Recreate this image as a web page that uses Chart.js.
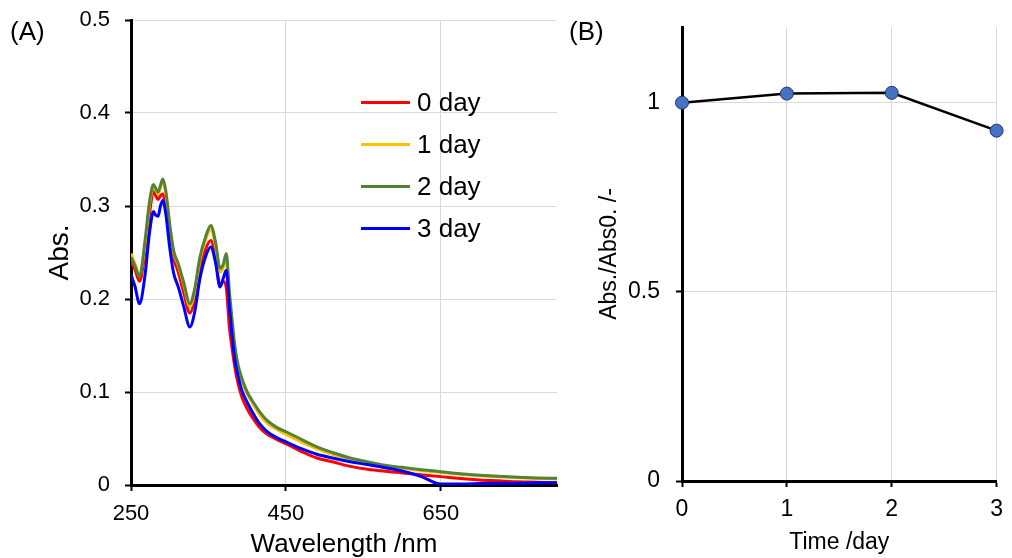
<!DOCTYPE html>
<html>
<head>
<meta charset="utf-8">
<script src="https://cdn.jsdelivr.net/npm/chart.js@4.4.1/dist/chart.umd.min.js"></script>
<style>
  body { margin: 0; background: #fff; font-family: "Liberation Sans", Arial, sans-serif; }
  #page { position: relative; width: 1012px; height: 558px; overflow: hidden; }
  .panel { position: absolute; top: 0; }
  .tag { position: absolute; font-size: 26px; color: #000; }
  .legend-row { position: absolute; height: 30px; display: flex; align-items: center; font-size: 26px; color: #000; }
  .legend-row span.swatch { display: inline-block; width: 49px; height: 3px; margin-right: 7px; }
</style>
</head>
<body>
<div id="page">
  <div class="panel" style="left:0;width:570px;height:558px"><canvas id="chartA" width="570" height="558"></canvas></div>
  <div class="panel" style="left:570px;width:442px;height:558px"><canvas id="chartB" width="442" height="558"></canvas></div>
  <div class="tag" style="left:10px;top:16px">(A)</div>
  <div class="tag" style="left:569px;top:16px">(B)</div>
  <div id="legend"></div>
</div>
<script>
// panel A: absorption spectra
const wavelength = [250, 255, 261, 268, 274, 279, 282, 285, 288, 291, 295, 300, 305, 311, 318, 326, 332, 339, 346, 353,
                    359, 365, 369, 373, 377, 380, 384, 388, 393, 400, 407, 415, 425, 438, 451, 470, 490, 510, 533, 555,
                    575, 600, 625, 650, 675, 700, 725, 750, 775, 800];
const abs0day = [0.240, 0.232, 0.219, 0.250, 0.292, 0.316, 0.311, 0.307, 0.311, 0.313, 0.298, 0.268, 0.244, 0.229, 0.207, 0.185, 0.198, 0.232, 0.253, 0.263,
                 0.245, 0.214, 0.219, 0.212, 0.170, 0.150, 0.127, 0.110, 0.095, 0.082, 0.072, 0.063, 0.055, 0.049, 0.044, 0.036, 0.029, 0.025, 0.020, 0.017,
                 0.015, 0.013, 0.011, 0.009, 0.007, 0.0055, 0.0045, 0.0035, 0.003, 0.0025];
const abs1day = [0.249, 0.238, 0.226, 0.258, 0.302, 0.321, 0.317, 0.313, 0.320, 0.326, 0.313, 0.278, 0.250, 0.236, 0.216, 0.192, 0.207, 0.242, 0.263, 0.275,
                 0.258, 0.229, 0.233, 0.244, 0.203, 0.178, 0.147, 0.127, 0.112, 0.098, 0.088, 0.077, 0.067, 0.060, 0.054, 0.046, 0.039, 0.033, 0.028, 0.024,
                 0.021, 0.018, 0.0155, 0.0135, 0.0115, 0.010, 0.0088, 0.0078, 0.007, 0.0065];
const abs2day = [0.245, 0.236, 0.224, 0.262, 0.305, 0.323, 0.319, 0.315, 0.322, 0.329, 0.316, 0.280, 0.252, 0.238, 0.218, 0.195, 0.210, 0.245, 0.266, 0.279,
                 0.262, 0.233, 0.237, 0.249, 0.208, 0.182, 0.150, 0.130, 0.115, 0.100, 0.090, 0.080, 0.070, 0.062, 0.057, 0.049, 0.041, 0.035, 0.029, 0.025,
                 0.0215, 0.019, 0.0165, 0.0143, 0.012, 0.0105, 0.0093, 0.0083, 0.0076, 0.0072];
const abs3day = [0.226, 0.214, 0.195, 0.225, 0.272, 0.294, 0.290, 0.289, 0.300, 0.306, 0.291, 0.255, 0.228, 0.213, 0.192, 0.170, 0.185, 0.222, 0.245, 0.256,
                 0.240, 0.213, 0.222, 0.231, 0.192, 0.165, 0.135, 0.118, 0.102, 0.089, 0.078, 0.067, 0.058, 0.051, 0.046, 0.039, 0.033, 0.029, 0.025, 0.022,
                 0.019, 0.015, 0.009, 0.001, 0.001, 0.0015, 0.002, 0.002, 0.0025, 0.0025];
const seriesNames = ["0 day", "1 day", "2 day", "3 day"];
const seriesColors = ["#ff0000", "#ffc000", "#548235", "#0000ff"];
const xTicksA = [250, 450, 650];
const yTicksA = [0, 0.1, 0.2, 0.3, 0.4, 0.5];

// panel B: relative absorbance
const timeDays = [0, 1, 2, 3];
const absRatio = [1.0, 1.024, 1.026, 0.926];
const xTicksB = [0, 1, 2, 3];
const yTicksB = [0, 0.5, 1];

const fontFamily = "'Liberation Sans', Arial, sans-serif";
const gridColor = "#d9d9d9";

function toPoints(xs, ys) {
    return xs.map(function(x, i) { return { x: x, y: ys[i] }; });
}

// fixed axis box so the plot area lands where the original has it
function fixYAxis(width) {
    return function(scale) {
        scale.width = width;
        scale.paddingTop = 0;
        scale.paddingBottom = 0;
    };
}

const spectra = [abs0day, abs1day, abs2day, abs3day];

new Chart(document.getElementById("chartA").getContext("2d"), {
    type: "line",
    data: {
        datasets: spectra.map(function(values, i) {
            return {
                label: seriesNames[i],
                data: toPoints(wavelength, values),
                borderColor: seriesColors[i],
                borderWidth: 3,
                pointRadius: 0,
                cubicInterpolationMode: "monotone",
                order: 4 - i
            };
        })
    },
    options: {
        responsive: false,
        animation: false,
        layout: { padding: { left: 0, top: 20, right: 13, bottom: 0 } },
        plugins: { legend: { display: false }, tooltip: { enabled: false } },
        scales: {
            x: {
                type: "linear",
                min: 250,
                max: 800,
                afterBuildTicks: function(scale) { scale.ticks = xTicksA.map(function(v) { return { value: v }; }); },
                afterFit: function(scale) { scale.height = 73; },
                grid: { color: gridColor, lineWidth: 1, tickColor: "#000", tickWidth: 2, tickLength: 6 },
                border: { color: "#000", width: 3 },
                ticks: { color: "#000", font: { family: fontFamily, size: 22 }, padding: 10, maxRotation: 0 },
                title: { display: true, text: "Wavelength /nm", color: "#000", font: { family: fontFamily, size: 26, lineHeight: 1 }, padding: { top: 0, bottom: 0 } }
            },
            y: {
                min: 0,
                max: 0.5,
                afterBuildTicks: function(scale) { scale.ticks = yTicksA.map(function(v) { return { value: v }; }); },
                afterFit: fixYAxis(131),
                grid: { color: gridColor, lineWidth: 1, tickColor: "#000", tickWidth: 2, tickLength: 6 },
                border: { color: "#000", width: 3 },
                ticks: { color: "#000", font: { family: fontFamily, size: 22 }, padding: 15,
                         callback: function(v) { return Number(v.toFixed(1)).toString(); } },
                title: { display: true, text: "Abs.", color: "#000", font: { family: fontFamily, size: 28 }, padding: { top: 43 } }
            }
        }
    }
});

new Chart(document.getElementById("chartB").getContext("2d"), {
    type: "line",
    data: {
        datasets: [{
            label: "Abs./Abs0.",
            data: toPoints(timeDays, absRatio),
            borderColor: "#000",
            borderWidth: 2.5,
            pointRadius: 6.5,
            pointBackgroundColor: "#4472c4",
            pointBorderColor: "#1f3864",
            pointBorderWidth: 1,
            tension: 0,
            clip: false
        }]
    },
    options: {
        responsive: false,
        animation: false,
        layout: { padding: { left: 0, top: 27, right: 8, bottom: 0 } },
        plugins: { legend: { display: false }, tooltip: { enabled: false } },
        scales: {
            x: {
                type: "linear",
                min: 0,
                max: 3,
                afterBuildTicks: function(scale) { scale.ticks = xTicksB.map(function(v) { return { value: v }; }); },
                afterFit: function(scale) { scale.height = 77; },
                grid: { color: gridColor, lineWidth: 1, tickColor: "#000", tickWidth: 2, tickLength: 6 },
                border: { color: "#000", width: 3 },
                ticks: { color: "#000", font: { family: fontFamily, size: 23 }, padding: 9, maxRotation: 0 },
                title: { display: true, text: "Time /day", color: "#000", font: { family: fontFamily, size: 23, lineHeight: 1.2 }, padding: { top: 0, bottom: 2 } }
            },
            y: {
                min: 0,
                max: 1.2,
                afterBuildTicks: function(scale) { scale.ticks = yTicksB.map(function(v) { return { value: v }; }); },
                afterFit: fixYAxis(112),
                grid: { color: gridColor, lineWidth: 1, tickColor: "#000", tickWidth: 2, tickLength: 6 },
                border: { color: "#000", width: 3 },
                ticks: { color: "#000", font: { family: fontFamily, size: 23 }, padding: 16,
                         callback: function(v) { return String(v); } },
                title: { display: true, text: "Abs./Abs0. /-", color: "#000", font: { family: fontFamily, size: 23 }, padding: { top: 26 } }
            }
        }
    }
});

// legend for panel A, placed inside the plot like the original
const legend = document.getElementById("legend");
seriesNames.forEach(function(name, i) {
    const row = document.createElement("div");
    row.className = "legend-row";
    row.style.left = "361px";
    row.style.top = (87 + 42.3 * i) + "px";
    const sw = document.createElement("span");
    sw.className = "swatch";
    sw.style.background = seriesColors[i];
    row.appendChild(sw);
    row.appendChild(document.createTextNode(name));
    legend.appendChild(row);
});
</script>
</body>
</html>
